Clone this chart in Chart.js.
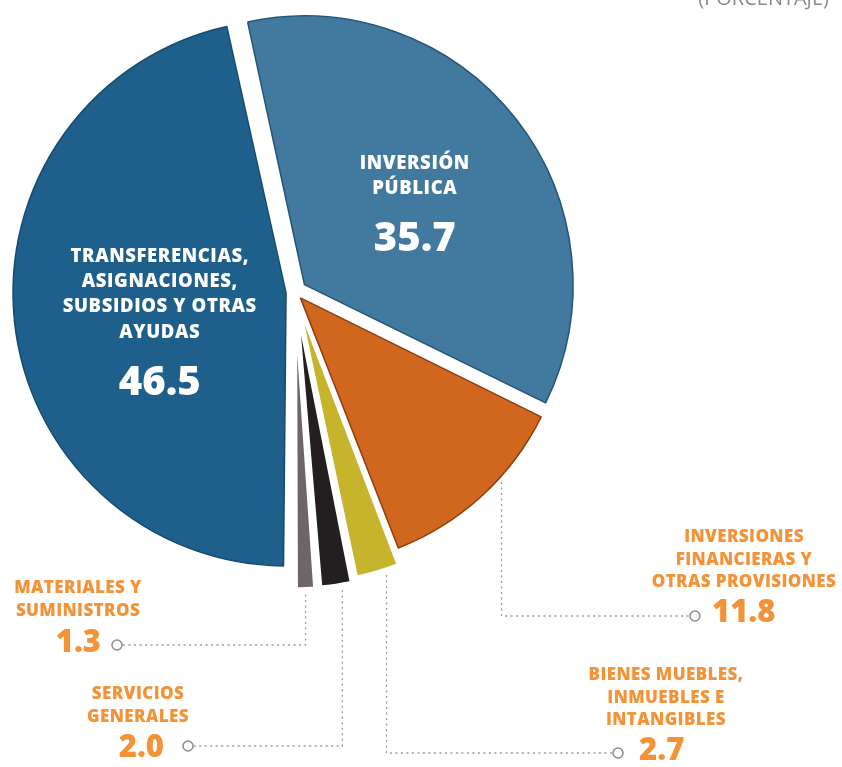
<!DOCTYPE html>
<html lang="es">
<head>
<meta charset="UTF-8">
<title>Distribución del gasto (porcentaje)</title>
<script src="https://cdn.jsdelivr.net/npm/chart.js"></script>
<style>
  html, body { margin: 0; padding: 0; background: #fff; overflow: hidden; }
  #wrap { width: 842px; height: 767px; position: relative; }
</style>
</head>
<body>
<div id="wrap">
  <canvas id="pie" width="842" height="767"></canvas>
</div>

<script>
// datos (porcentaje)
var categories = [
  'Inversión pública',
  'Inversiones financieras y otras provisiones',
  'Bienes muebles, inmuebles e intangibles',
  'Servicios generales',
  'Materiales y suministros',
  'Transferencias, asignaciones, subsidios y otras ayudas'
];
var values = [35.7, 11.8, 2.7, 2.0, 1.3, 46.5];
var valueLabels = ['35.7', '11.8', '2.7', '2.0', '1.3', '46.5'];
var labelLines = [
  ['INVERSIÓN', 'PÚBLICA'],
  ['INVERSIONES', 'FINANCIERAS Y', 'OTRAS PROVISIONES'],
  ['BIENES MUEBLES,', 'INMUEBLES E', 'INTANGIBLES'],
  ['SERVICIOS', 'GENERALES'],
  ['MATERIALES Y', 'SUMINISTROS'],
  ['TRANSFERENCIAS,', 'ASIGNACIONES,', 'SUBSIDIOS Y OTRAS', 'AYUDAS']
];

var fillColors = ['#41799f', '#d1671f', '#c5b42c', '#231f20', '#6e6566', '#1f5f8b'];
var edgeColors = ['#245579', '#8f3e0c', '#ffffff', '#ffffff', '#ffffff', '#154a70'];

var ORANGE = '#f39237';
var FONT = '"Open Sans"';

// etiquetas dentro de la rebanada
var insideLabels = {
  0: { dx: 4, dy: 0 },
  5: { dx: 8, dy: 13 }
};

// etiquetas de fuera con linea punteada
var outsideLabels = {
  1: { cx: 744, y0: 537, circle: [695, 616], num: [712, 613, 'left'], frac: 0.36 },
  2: { cx: 666, y0: 675, circle: [618, 753], num: [639, 751, 'left'], frac: 0.3 },
  3: { cx: 138, y0: 694, circle: [188, 746], num: [164, 748, 'right'], frac: 0.32 },
  4: { cx: 78, y0: 588, circle: [117, 645], num: [101, 643, 'right'], frac: 0.5 }
};

var labelPlugin = {
  id: 'labelPlugin',
  afterDatasetsDraw: function(chart) {
    var ctx = chart.ctx;
    var meta = chart.getDatasetMeta(0);
    ctx.save();

    // titulo cortado arriba
    ctx.font = '20px ' + FONT;
    ctx.fillStyle = '#8a8a8a';
    ctx.textAlign = 'right';
    ctx.textBaseline = 'alphabetic';
    ctx.fillText('(PORCENTAJE)', 829, 5);

    meta.data.forEach(function(arc, i) {
      var p = arc.getProps(['x', 'y', 'startAngle', 'endAngle', 'outerRadius'], true);
      var off = (arc.options.offset || 0) / 4;
      var mid = (p.startAngle + p.endAngle) / 2;
      var ax = p.x + Math.cos(mid) * off;
      var ay = p.y + Math.sin(mid) * off;
      var circ = p.endAngle - p.startAngle;
      var r = p.outerRadius + off * (1 - Math.sin(Math.min(Math.PI, circ)));

      if (insideLabels[i]) {
        var cfg = insideLabels[i];
        var cx = ax + Math.cos(mid) * 135 + cfg.dx;
        var cy = ay + Math.sin(mid) * 135 + cfg.dy;
        var lines = labelLines[i];
        var gap = 25.2;
        var total = (lines.length - 1) * gap + 51;
        var y = cy - total / 2;
        ctx.fillStyle = '#ffffff';
        ctx.textAlign = 'center';
        ctx.textBaseline = 'middle';
        ctx.font = '800 18.5px ' + FONT;
        ctx.letterSpacing = '0.6px';
        lines.forEach(function(t, k) {
          ctx.fillText(t, cx, y + k * gap);
        });
        ctx.letterSpacing = '0px';
        ctx.font = '800 40px ' + FONT;
        ctx.fillText(valueLabels[i], cx, y + (lines.length - 1) * gap + 51);
      }

      if (outsideLabels[i]) {
        var o = outsideLabels[i];
        var a = p.startAngle + circ * o.frac;
        var lx = ax + Math.cos(a) * r;
        var ly = ay + Math.sin(a) * r + 6;
        var ccx = o.circle[0], ccy = o.circle[1];

        ctx.strokeStyle = '#9b9b9b';
        ctx.lineWidth = 1.3;
        ctx.setLineDash([2, 3.5]);
        ctx.beginPath();
        ctx.moveTo(lx, ly);
        ctx.lineTo(lx, ccy);
        ctx.lineTo(ccx + (ccx < lx ? 5 : -5), ccy);
        ctx.stroke();
        ctx.setLineDash([]);

        ctx.beginPath();
        ctx.arc(ccx, ccy, 5, 0, Math.PI * 2);
        ctx.fillStyle = '#ffffff';
        ctx.fill();
        ctx.strokeStyle = '#8c8c8c';
        ctx.lineWidth = 1.5;
        ctx.stroke();

        ctx.fillStyle = ORANGE;
        ctx.textAlign = 'center';
        ctx.textBaseline = 'middle';
        ctx.font = '800 17px ' + FONT;
        ctx.letterSpacing = '0.4px';
        labelLines[i].forEach(function(t, k) {
          ctx.fillText(t, o.cx, o.y0 + k * 22.8);
        });
        ctx.letterSpacing = '0px';
        ctx.font = '800 31px ' + FONT;
        ctx.textAlign = o.num[2];
        ctx.fillText(valueLabels[i], o.num[0], o.num[1]);
      }
    });
    ctx.restore();
  }
};

new Chart(document.getElementById('pie').getContext('2d'), {
  type: 'pie',
  data: {
    labels: categories,
    datasets: [{
      data: values,
      backgroundColor: fillColors,
      borderColor: edgeColors,
      borderWidth: [1.5, 1.5, 3, 3, 3, 1.5],
      offset: [48, 32, 56, 64, 64, 36],
      clip: false
    }]
  },
  options: {
    responsive: false,
    animation: false,
    rotation: -12.3,
    radius: 266,
    layout: { padding: { left: 0, top: 0, right: 252, bottom: 183 } },
    events: [],
    plugins: {
      legend: { display: false },
      tooltip: { enabled: false }
    }
  },
  plugins: [labelPlugin]
});
</script>
</body>
</html>
